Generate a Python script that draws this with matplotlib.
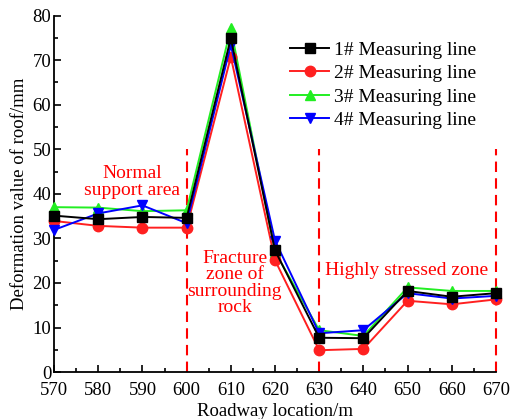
import matplotlib
matplotlib.use("Agg")
import matplotlib.pyplot as plt
from matplotlib.ticker import MultipleLocator

plt.rcParams['font.family'] = ['Liberation Serif', 'DejaVu Serif']
plt.rcParams['mathtext.fontset'] = 'stix'

x = [570, 580, 590, 600, 610, 620, 630, 640, 650, 660, 670]
line1 = [35.1, 34.3, 34.8, 34.6, 74.9, 27.3, 7.7, 7.6, 18.2, 16.9, 17.7]
line2 = [33.9, 32.8, 32.4, 32.4, 70.7, 25.1, 4.9, 5.2, 16.0, 15.2, 16.3]
line3 = [37.0, 36.9, 36.1, 36.3, 77.1, 27.0, 9.4, 8.1, 19.0, 18.2, 18.2]
line4 = [31.9, 35.6, 37.4, 33.4, 73.4, 29.5, 8.7, 9.4, 17.7, 16.5, 17.1]
labels = ['1# Measuring line', '2# Measuring line', '3# Measuring line', '4# Measuring line']
boundaries = [600, 630, 670]

fig = plt.figure(figsize=(5.15, 4.19), dpi=100)
ax = fig.add_axes([0.105, 0.112, 0.858, 0.851])

ax.plot(x, line1, color='black', marker='s', ms=6.5, lw=1.4, label=labels[0], zorder=5, clip_on=False)
ax.plot(x, line2, color='#ff2020', marker='o', ms=7.5, lw=1.4, label=labels[1], zorder=4, clip_on=False)
ax.plot(x, line3, color='#22ee22', marker='^', ms=7.5, lw=1.4, label=labels[2], zorder=3, clip_on=False)
ax.plot(x, line4, color='#0000ff', marker='v', ms=7.5, lw=1.4, label=labels[3], zorder=4, clip_on=False)

for b in boundaries:
    ax.plot([b, b], [0, 50], color='red', ls=(0, (5, 3)), lw=1.5, zorder=2, clip_on=False)

ax.set_xlim(570, 670)
ax.set_ylim(0, 80)
ax.xaxis.set_major_locator(MultipleLocator(10))
ax.xaxis.set_minor_locator(MultipleLocator(5))
ax.yaxis.set_major_locator(MultipleLocator(10))
ax.yaxis.set_minor_locator(MultipleLocator(5))
ax.tick_params(which='major', direction='in', length=5, width=1.2, labelsize=13.5, pad=2)
ax.tick_params(axis='x', which='major', pad=7)
ax.tick_params(which='minor', direction='in', length=2.8, width=1.2)
for s in ['top', 'right']:
    ax.spines[s].set_visible(False)
for s in ['left', 'bottom']:
    ax.spines[s].set_linewidth(1.3)

ax.set_xlabel('Roadway location/m', fontsize=13.5, labelpad=3)
ax.set_ylabel('Deformation value of roof/mm', fontsize=13.5, labelpad=3)

ax.text(587.6, 42.7, 'Normal\nsupport area', color='red', fontsize=14,
        ha='center', va='center', linespacing=1.0)
ax.text(610.9, 20.0, 'Fracture\nzone of\nsurrounding\nrock', color='red', fontsize=14,
        ha='center', va='center', linespacing=0.95)
ax.text(649.8, 22.7, 'Highly stressed zone', color='red', fontsize=14,
        ha='center', va='center')

ax.legend(loc='upper left', bbox_to_anchor=(0.535, 0.928), frameon=False, fontsize=14,
          handlelength=2.0, handletextpad=0.25, labelspacing=0.3, borderaxespad=0.0,
          borderpad=0.0)

fig.savefig('out.png', dpi=100)
